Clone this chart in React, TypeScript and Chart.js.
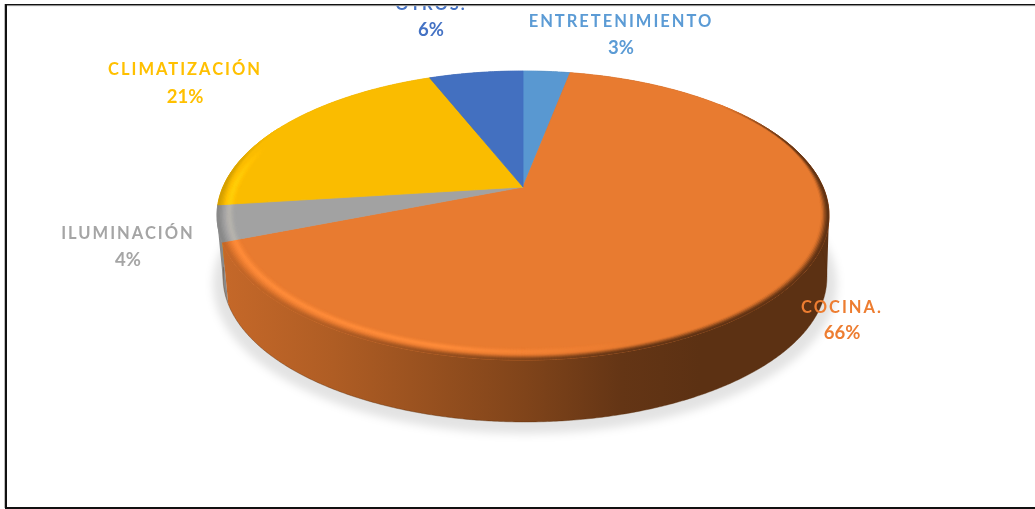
import React, { useEffect, useRef } from "react";
import { Chart, registerables } from "chart.js";

Chart.register(...registerables);

// Energy use by category, clockwise from twelve o'clock.
const categories = ["ENTRETENIMIENTO", "COCINA.", "ILUMINACIÓN", "CLIMATIZACIÓN", "OTROS."];
const shares = [3, 66, 4, 21, 6];
const sliceColors = ["#5B9BD5", "#ED7D31", "#A5A5A5", "#FFC000", "#4472C4"];

// Text placement per category: centre x, name baseline, percentage baseline.
const labelSpots = [
  [621, 27, 54.3],
  [842, 313, 339.3],
  [128, 239, 266],
  [185, 75, 102.5],
  [431, 10, 36],
];

const WIDTH = 1035;
const HEIGHT = 509;

type Disc = { cx: number; cy: number; rx: number; ry: number; sag: number };

// Perspective-projected discs: the upper face and the lower rim of the pie.
const faceDisc: Disc = { cx: 523, cy: 187, rx: 300, ry: 138.9, sag: 0.197 };
const baseDisc: Disc = { cx: 525, cy: 249, rx: 296, ry: 138.9, sag: 0.197 };

const project = (d: Disc, angle: number, radius = 1) => {
  const u = radius * Math.cos(angle);
  const v = radius * Math.sin(angle);
  const w = 1 - d.sag * v;
  return { x: d.cx + (d.rx * u) / w, y: d.cy + (d.ry * v) / w };
};

const clamp = (n: number) => Math.max(0, Math.min(1, n));
const smooth = (a: number, b: number, n: number) => {
  const t = clamp((n - a) / (b - a));
  return t * t * (3 - 2 * t);
};

type Rgb = number[];
type Pt = { x: number; y: number };
const parseHex = (hex: string): Rgb => [1, 3, 5].map((i) => parseInt(hex.slice(i, i + 2), 16));
const mix = (a: Rgb, b: Rgb, m: number): Rgb => a.map((c, i) => c + (b[i] - c) * m);
const css = (c: Rgb) => `rgb(${c.map((n) => Math.round(Math.min(255, n))).join(",")})`;
const BLACK = [0, 0, 0];

// How strongly the side wall is shaded at a given x: light on the left, deep on the right.
const shadeStops = [
  [224, 0.17],
  [333, 0.26],
  [525, 0.46],
  [622, 0.58],
  [700, 0.61],
  [830, 0.61],
];
const wallShade = (x: number) => {
  for (let i = 1; i < shadeStops.length; i++) {
    const [x0, a0] = shadeStops[i - 1];
    const [x1, a1] = shadeStops[i];
    if (x <= x1) return a0 + (a1 - a0) * clamp((x - x0) / (x1 - x0));
  }
  return 0.61;
};

const STEP = 0.008;
const sweep = (start: number, end: number) => {
  const n = Math.max(1, Math.ceil((end - start) / STEP));
  return Array.from({ length: n + 1 }, (_, i) => start + ((end - start) * i) / n);
};

const tracePolygon = (ctx: CanvasRenderingContext2D, pts: Pt[]) => {
  pts.forEach((p, i) => (i ? ctx.lineTo(p.x, p.y) : ctx.moveTo(p.x, p.y)));
  ctx.closePath();
};

const fillPolygon = (ctx: CanvasRenderingContext2D, pts: Pt[], color: string) => {
  ctx.beginPath();
  tracePolygon(ctx, pts);
  ctx.fillStyle = color;
  ctx.strokeStyle = color;
  ctx.lineWidth = 0.8;
  ctx.fill();
  ctx.stroke();
};

const signedArea = (pts: Pt[]) =>
  pts.reduce((sum, p, i) => {
    const q = pts[(i + 1) % pts.length];
    return sum + p.x * q.y - q.x * p.y;
  }, 0);

const drawShadow = (ctx: CanvasRenderingContext2D) => {
  ctx.save();
  ctx.filter = "blur(4px)";
  ctx.fillStyle = "rgba(0,0,0,0.11)";
  ctx.beginPath();
  ctx.ellipse(525, 284, 312, 150, 0, 0, Math.PI * 2);
  ctx.fill();
  ctx.restore();
};

// The wall is one path of consistently wound strips, painted by a single horizontal gradient.
const drawWall = (ctx: CanvasRenderingContext2D, start: number, end: number, base: Rgb) => {
  const angles = sweep(start, end);
  ctx.beginPath();
  for (let i = 1; i < angles.length; i++) {
    const quad = [
      project(faceDisc, angles[i - 1]),
      project(faceDisc, angles[i]),
      project(baseDisc, angles[i]),
      project(baseDisc, angles[i - 1]),
    ];
    tracePolygon(ctx, signedArea(quad) < 0 ? quad.reverse() : quad);
  }
  const x0 = shadeStops[0][0];
  const x1 = shadeStops[shadeStops.length - 1][0];
  const gradient = ctx.createLinearGradient(x0, 0, x1, 0);
  shadeStops.forEach(([x, a]) => gradient.addColorStop((x - x0) / (x1 - x0), css(mix(base, BLACK, a))));
  ctx.fillStyle = gradient;
  ctx.fill();
};

const drawBaseLip = (ctx: CanvasRenderingContext2D, start: number, end: number) => {
  const from = Math.max(start, 0);
  const to = Math.min(end, Math.PI);
  if (to <= from) return;
  ctx.save();
  ctx.strokeStyle = "rgba(90,45,10,0.4)";
  ctx.lineWidth = 1;
  ctx.beginPath();
  sweep(from, to).forEach((t, i) => {
    const p = project(baseDisc, t);
    if (i) ctx.lineTo(p.x, p.y);
    else ctx.moveTo(p.x, p.y);
  });
  ctx.stroke();
  ctx.restore();
};

const drawFace = (ctx: CanvasRenderingContext2D, start: number, end: number, base: Rgb) => {
  const rim = sweep(start, end).map((t) => project(faceDisc, t));
  fillPolygon(ctx, [{ x: faceDisc.cx, y: faceDisc.cy }, ...rim], css(mix(base, BLACK, 0.02)));
};

// Soft bevel near the rim: a bright streak on the lit side, darkening into the wall.
const drawBevel = (ctx: CanvasRenderingContext2D, start: number, end: number, base: Rgb) => {
  const rings = 14;
  const band = 0.06;
  const angles = sweep(start, end);
  const face = mix(base, BLACK, 0.02);
  const lit = [base[0] + 18, base[1] + 15, base[2] + 9];
  for (let k = rings - 1; k >= 0; k--) {
    const t = (k + 0.5) / rings;
    const outer = 1 - (band * k) / rings;
    const inner = 1 - (band * (k + 1)) / rings;
    for (let i = 1; i < angles.length; i++) {
      const mid = (angles[i - 1] + angles[i]) / 2;
      const u = Math.cos(mid);
      const v = Math.sin(mid);
      const x = project(faceDisc, mid).x;
      const glow =
        Math.exp(-(((t - 0.62) / 0.2) ** 2)) * clamp((640 - x) / 200) * smooth(-0.35, 0, v);
      const strength = Math.max(smooth(-0.5, 0, v), smooth(0.72, 0.95, u));
      const reach = 0.15 + 0.3 * smooth(-0.5, 0.2, v);
      const dark = strength * (1 - smooth(0, reach, t));
      if (glow < 0.02 && dark < 0.02) continue;
      let color = mix(face, lit, 0.95 * glow);
      color = mix(color, mix(base, BLACK, wallShade(x)), dark);
      fillPolygon(
        ctx,
        [
          project(faceDisc, angles[i - 1], outer),
          project(faceDisc, angles[i], outer),
          project(faceDisc, angles[i], inner),
          project(faceDisc, angles[i - 1], inner),
        ],
        css(color)
      );
    }
  }
};

const drawLabels = (chart: any) => {
  const { ctx } = chart;
  ctx.save();
  ctx.beginPath();
  ctx.rect(0, 6, WIDTH, HEIGHT);
  ctx.clip();
  ctx.textAlign = "center";
  ctx.textBaseline = "alphabetic";
  chart.data.labels.forEach((name: string, i: number) => {
    const [x, nameY, pctY] = labelSpots[i];
    ctx.fillStyle = sliceColors[i];
    ctx.font = "bold 16.5px Lato";
    (ctx as any).letterSpacing = "2px";
    ctx.fillText(name, x, nameY);
    (ctx as any).letterSpacing = "0px";
    ctx.font = "bold 18.5px Lato";
    ctx.fillText(`${chart.data.datasets[0].data[i]}%`, x, pctY);
  });
  ctx.restore();
};

const drawFrame = (ctx: CanvasRenderingContext2D) => {
  ctx.fillStyle = "#111111";
  ctx.fillRect(5, 4, WIDTH - 5, 1.6);
  ctx.fillRect(5, 4, 2, HEIGHT - 5);
  ctx.fillRect(5, 507, WIDTH - 5, 2);
  ctx.fillStyle = "#bdbdbd";
  ctx.fillRect(4, 4, 1, HEIGHT - 5);
  ctx.fillRect(7, 5.6, WIDTH - 7, 0.6);
};

const perspectivePie = {
  id: "perspectivePie",
  beforeDatasetsDraw(chart: any) {
    const { ctx } = chart;
    const slices = chart.getDatasetMeta(0).data.map((arc: any, i: number) => ({
      start: arc.startAngle,
      end: arc.endAngle,
      rgb: parseHex(sliceColors[i]),
      depth: Math.sin((arc.startAngle + arc.endAngle) / 2),
    }));
    drawShadow(ctx);
    [...slices]
      .sort((a, b) => a.depth - b.depth)
      .forEach((s) => {
        drawWall(ctx, s.start, s.end, s.rgb);
        drawBaseLip(ctx, s.start, s.end);
      });
    slices.forEach((s: any) => drawFace(ctx, s.start, s.end, s.rgb));
    slices.forEach((s: any) => drawBevel(ctx, s.start, s.end, s.rgb));
    return false;
  },
  afterDraw(chart: any) {
    drawLabels(chart);
    drawFrame(chart.ctx);
  },
};

export default function App() {
  const canvasRef = useRef<HTMLCanvasElement>(null);

  useEffect(() => {
    if (!canvasRef.current) return;
    const chart = new Chart(canvasRef.current, {
      type: "pie",
      data: {
        labels: categories,
        datasets: [{ data: shares, backgroundColor: sliceColors, borderWidth: 0 }],
      },
      options: {
        animation: false,
        responsive: false,
        plugins: { legend: { display: false }, tooltip: { enabled: false } },
      },
      plugins: [perspectivePie],
    } as any);
    return () => chart.destroy();
  }, []);

  return (
    <div style={{ position: "absolute", left: 0, top: 0, width: WIDTH, height: HEIGHT, background: "#fff" }}>
      <canvas ref={canvasRef} width={WIDTH} height={HEIGHT} style={{ display: "block" }} />
    </div>
  );
}
